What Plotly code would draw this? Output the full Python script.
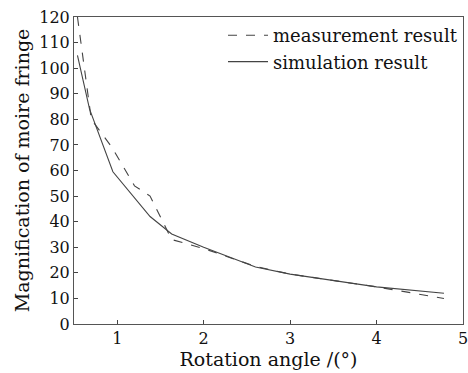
import plotly.graph_objects as go

meas_x = [0.54, 0.70, 0.94, 1.20, 1.38, 1.63, 2.00, 2.60, 3.00, 4.00, 4.78]
meas_y = [120, 80, 69, 54, 50, 33, 29.5, 22.5, 19.5, 14.5, 10]
sim_x = [0.54, 0.68, 0.95, 1.17, 1.38, 1.63, 2.00, 2.60, 3.00, 4.00, 4.78]
sim_y = [105, 84, 59.5, 50.5, 42, 35.2, 30, 22.3, 19.5, 14.5, 12]
x_ticks = [1, 2, 3, 4, 5]

FONT = "DejaVu Serif"
fig = go.Figure()
fig.add_trace(go.Scatter(x=meas_x, y=meas_y, mode="lines", name="measurement result",
                         line=dict(color="#444", width=1.1, dash="dash")))
fig.add_trace(go.Scatter(x=sim_x, y=sim_y, mode="lines", name="simulation result",
                         line=dict(color="#444", width=1.1)))
fig.update_layout(
    width=468, height=373, margin=dict(l=74, r=5, t=17, b=49, autoexpand=False),
    paper_bgcolor="white", plot_bgcolor="white",
    font=dict(family=FONT, size=16, color="#111"),
    showlegend=True,
    legend=dict(x=1, y=1, xanchor="right", yanchor="top", bgcolor="rgba(0,0,0,0)",
                font=dict(size=18), tracegroupgap=0, itemwidth=40),
    xaxis=dict(range=[0.5, 5.0001], tickvals=x_ticks, ticks="inside", ticklen=4,
               showline=True, linecolor="#555", linewidth=1, mirror=True,
               showgrid=False, zeroline=False, automargin=False,
               ticklabeloverflow="allow",
               title=dict(text="Rotation angle /(°)", standoff=2)),
    yaxis=dict(range=[0, 120], dtick=10, ticks="inside", ticklen=4,
               showline=True, linecolor="#555", linewidth=1, mirror=True,
               showgrid=False, zeroline=False, automargin=False,
               title=dict(text="Magnification of moire fringe", standoff=4)),
)
fig.write_html("out.html", config={"displayModeBar": False},
               post_script="document.body.style.margin='0';")
